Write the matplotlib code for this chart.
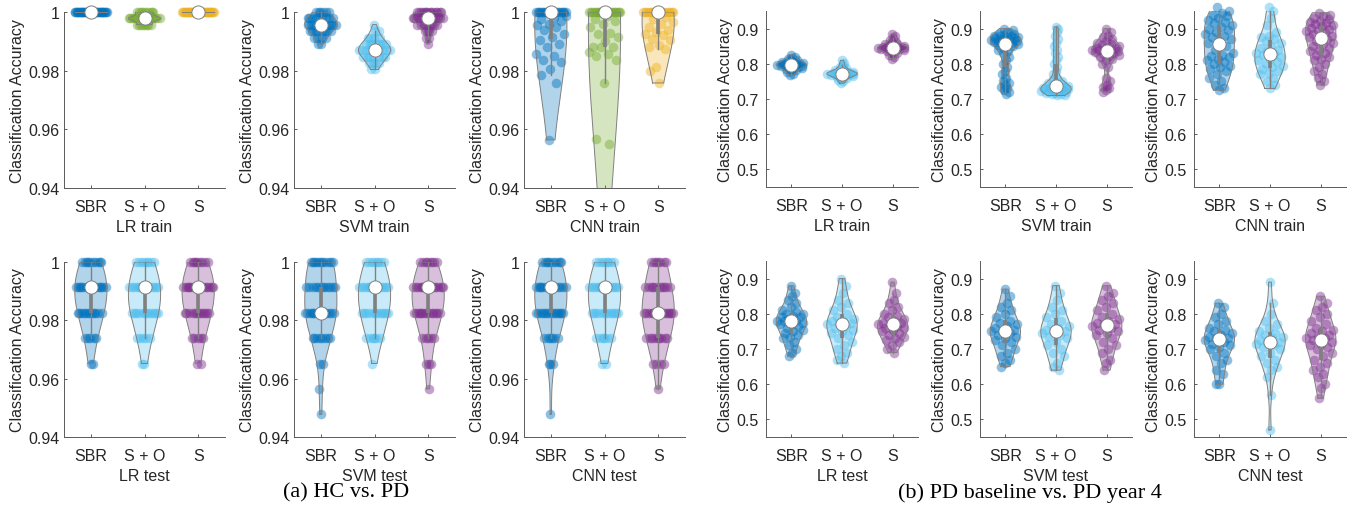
import numpy as np
import matplotlib
matplotlib.use('Agg')
import matplotlib.pyplot as plt

# MATLAB default colour order
BLUE = (0.0, 0.447, 0.741)
LBLUE = (0.301, 0.745, 0.933)
GREEN = (0.466, 0.674, 0.188)
ORANGE = (0.929, 0.694, 0.125)
PURPLE = (0.494, 0.184, 0.556)
GRAY = (0.5, 0.5, 0.5)

categories = ['SBR', 'S + O', 'S']

# ---- (a) HC vs. PD : accuracies sit on discrete levels -> (levels, counts) tables
hc_lr_train_sbr = ([1.0], [40])
hc_lr_train_so = ([1.0, 0.9978, 0.9957], [10, 18, 8])
hc_lr_train_s = ([1.0], [40])

hc_svm_train_sbr = ([1.0, 0.9978, 0.9957, 0.9935, 0.9913, 0.9891], [6, 9, 12, 8, 4, 2])
hc_svm_train_so = ([0.9957, 0.9935, 0.9913, 0.9891, 0.9870, 0.9848, 0.9826, 0.9804],
                   [1, 2, 4, 7, 10, 7, 4, 2])
hc_svm_train_s = ([1.0, 0.9978, 0.9957, 0.9935, 0.9913, 0.9891], [14, 14, 8, 4, 2, 1])

hc_cnn_train_sbr = [1.0] * 22 + [0.9985, 0.998, 0.9977, 0.997, 0.996, 0.9954, 0.995, 0.9937,
                                 0.9926, 0.9915, 0.9903, 0.989, 0.988, 0.9858, 0.985, 0.9835,
                                 0.983, 0.9807, 0.9784, 0.9758, 0.9564]
hc_cnn_train_so = [1.0] * 23 + [0.9985, 0.9977, 0.997, 0.996, 0.9948, 0.993, 0.9926, 0.9915,
                                0.990, 0.988, 0.988, 0.988, 0.9865, 0.9858, 0.985, 0.9835,
                                0.9758, 0.9567, 0.955, 0.935, 0.92]
hc_cnn_train_s = [1.0] * 20 + [0.9983, 0.9977, 0.9966, 0.996, 0.9949, 0.9937, 0.9932, 0.9926,
                               0.992, 0.9909, 0.9903, 0.9886, 0.988, 0.9875, 0.9812, 0.980,
                               0.9758]

hc_test_levels = [1.0, 0.9913, 0.9826, 0.9739, 0.9652, 0.9565, 0.9478]
hc_lr_test_sbr = (hc_test_levels, [10, 16, 12, 5, 2, 0, 0])
hc_lr_test_so = (hc_test_levels, [8, 14, 12, 5, 2, 0, 0])
hc_lr_test_s = (hc_test_levels, [9, 16, 12, 5, 2, 0, 0])
hc_svm_test_sbr = (hc_test_levels, [12, 12, 14, 8, 2, 1, 1])
hc_svm_test_so = (hc_test_levels, [8, 14, 12, 6, 1, 0, 0])
hc_svm_test_s = (hc_test_levels, [8, 16, 14, 5, 3, 1, 0])
hc_cnn_test_sbr = (hc_test_levels, [10, 15, 14, 6, 3, 0, 1])
hc_cnn_test_so = (hc_test_levels, [8, 14, 12, 6, 2, 0, 0])
hc_cnn_test_s = (hc_test_levels, [7, 10, 14, 9, 4, 1, 0])

# ---- (b) PD baseline vs. PD year 4
pd_lr_train_sbr = [0.768, 0.772, 0.776, 0.779, 0.782, 0.785, 0.787, 0.789, 0.790, 0.792,
                   0.793, 0.794, 0.795, 0.796, 0.797, 0.797, 0.798, 0.799, 0.800, 0.801,
                   0.802, 0.803, 0.805, 0.806, 0.808, 0.810, 0.813, 0.816, 0.820, 0.826]
pd_lr_train_so = [0.745, 0.750, 0.754, 0.757, 0.760, 0.762, 0.764, 0.766, 0.767, 0.768,
                  0.769, 0.770, 0.771, 0.771, 0.772, 0.772, 0.773, 0.774, 0.775, 0.776,
                  0.777, 0.778, 0.780, 0.782, 0.784, 0.787, 0.791, 0.796, 0.802, 0.810]
pd_lr_train_s = [0.815, 0.820, 0.825, 0.829, 0.832, 0.835, 0.837, 0.839, 0.840, 0.841,
                 0.842, 0.843, 0.844, 0.845, 0.845, 0.846, 0.847, 0.848, 0.849, 0.850,
                 0.851, 0.853, 0.855, 0.857, 0.860, 0.863, 0.867, 0.872, 0.878, 0.885]

pd_svm_train_sbr = [0.715, 0.72, 0.725, 0.73, 0.735, 0.74, 0.745, 0.75, 0.76, 0.77, 0.78,
                    0.79, 0.80, 0.81, 0.82, 0.83, 0.835, 0.84, 0.845, 0.85, 0.852, 0.855,
                    0.857, 0.858, 0.86, 0.861, 0.862, 0.864, 0.865, 0.867, 0.868, 0.87,
                    0.872, 0.873, 0.875, 0.876, 0.878, 0.879, 0.88, 0.883, 0.884, 0.886,
                    0.89, 0.895, 0.90]
pd_svm_train_so = [0.71, 0.712, 0.713, 0.715, 0.717, 0.718, 0.72, 0.721, 0.722, 0.724,
                   0.725, 0.726, 0.727, 0.728, 0.729, 0.73, 0.731, 0.732, 0.733, 0.734,
                   0.735, 0.736, 0.738, 0.74, 0.742, 0.745, 0.748, 0.752, 0.756, 0.76,
                   0.77, 0.78, 0.79, 0.80, 0.81, 0.82, 0.83, 0.84, 0.85, 0.86, 0.87,
                   0.88, 0.89, 0.90, 0.905]
pd_svm_train_s = [0.72, 0.725, 0.73, 0.735, 0.74, 0.75, 0.76, 0.79, 0.80, 0.81, 0.815,
                  0.82, 0.823, 0.826, 0.829, 0.831, 0.833, 0.835, 0.837, 0.838, 0.839,
                  0.84, 0.842, 0.844, 0.846, 0.848, 0.85, 0.853, 0.856, 0.86, 0.865,
                  0.87, 0.875, 0.88, 0.89, 0.90]

pd_cnn_train_sbr = [0.725, 0.73, 0.74, 0.75, 0.76, 0.77, 0.78, 0.785, 0.79, 0.795, 0.80,
                    0.805, 0.81, 0.815, 0.82, 0.822, 0.825, 0.83, 0.84, 0.85, 0.86, 0.865,
                    0.87, 0.875, 0.88, 0.885, 0.89, 0.895, 0.90, 0.905, 0.91, 0.915, 0.92,
                    0.925, 0.93, 0.935, 0.94, 0.945, 0.95, 0.96]
pd_cnn_train_so = [0.73, 0.74, 0.75, 0.76, 0.77, 0.775, 0.78, 0.785, 0.79, 0.795, 0.80,
                   0.805, 0.81, 0.815, 0.82, 0.825, 0.828, 0.83, 0.835, 0.84, 0.845, 0.85,
                   0.86, 0.865, 0.87, 0.875, 0.88, 0.89, 0.91, 0.93, 0.95, 0.96]
pd_cnn_train_s = [0.74, 0.75, 0.76, 0.77, 0.78, 0.79, 0.80, 0.81, 0.815, 0.82, 0.825,
                  0.83, 0.835, 0.84, 0.845, 0.85, 0.855, 0.86, 0.865, 0.87, 0.875, 0.878,
                  0.88, 0.885, 0.89, 0.893, 0.896, 0.90, 0.903, 0.906, 0.91, 0.913, 0.916,
                  0.92, 0.923, 0.926, 0.93, 0.935, 0.94, 0.945]

pd_lr_test_sbr = [0.68, 0.69, 0.70, 0.71, 0.72, 0.73, 0.735, 0.74, 0.745, 0.75, 0.755,
                  0.76, 0.765, 0.77, 0.77, 0.775, 0.78, 0.78, 0.78, 0.785, 0.79, 0.79,
                  0.795, 0.80, 0.80, 0.805, 0.81, 0.82, 0.83, 0.84, 0.85, 0.86, 0.88]
pd_lr_test_so = [0.66, 0.67, 0.68, 0.69, 0.70, 0.71, 0.72, 0.73, 0.74, 0.745, 0.75, 0.755,
                 0.76, 0.765, 0.77, 0.77, 0.775, 0.78, 0.78, 0.785, 0.79, 0.80, 0.81,
                 0.82, 0.83, 0.84, 0.86, 0.88, 0.90]
pd_lr_test_s = [0.69, 0.70, 0.71, 0.72, 0.725, 0.73, 0.735, 0.74, 0.745, 0.75, 0.755,
                0.76, 0.76, 0.765, 0.77, 0.77, 0.775, 0.775, 0.78, 0.785, 0.79, 0.795,
                0.80, 0.81, 0.82, 0.83, 0.84, 0.86, 0.89]

pd_svm_test_sbr = [0.65, 0.66, 0.67, 0.68, 0.69, 0.70, 0.71, 0.72, 0.725, 0.73, 0.735,
                   0.74, 0.745, 0.75, 0.75, 0.755, 0.76, 0.765, 0.77, 0.775, 0.78, 0.79,
                   0.80, 0.81, 0.82, 0.83, 0.85, 0.87]
pd_svm_test_so = [0.64, 0.65, 0.66, 0.68, 0.69, 0.70, 0.71, 0.72, 0.73, 0.735, 0.74,
                  0.745, 0.75, 0.75, 0.755, 0.76, 0.765, 0.77, 0.78, 0.79, 0.80, 0.81,
                  0.82, 0.84, 0.86, 0.88]
pd_svm_test_s = [0.64, 0.66, 0.67, 0.69, 0.70, 0.71, 0.72, 0.73, 0.74, 0.745, 0.75, 0.755,
                 0.76, 0.765, 0.77, 0.77, 0.775, 0.78, 0.785, 0.79, 0.80, 0.81, 0.82,
                 0.83, 0.84, 0.85, 0.86, 0.88]

pd_cnn_test_sbr = [0.60, 0.60, 0.63, 0.64, 0.66, 0.67, 0.68, 0.69, 0.70, 0.705, 0.71,
                   0.715, 0.72, 0.725, 0.73, 0.73, 0.735, 0.74, 0.745, 0.75, 0.755, 0.76,
                   0.77, 0.78, 0.79, 0.80, 0.82, 0.83]
pd_cnn_test_so = [0.47, 0.57, 0.62, 0.64, 0.65, 0.66, 0.67, 0.68, 0.69, 0.70, 0.705, 0.71,
                  0.715, 0.72, 0.72, 0.725, 0.73, 0.735, 0.74, 0.745, 0.75, 0.76, 0.77,
                  0.78, 0.80, 0.83, 0.89]
pd_cnn_test_s = [0.56, 0.59, 0.60, 0.62, 0.63, 0.64, 0.65, 0.66, 0.67, 0.68, 0.69, 0.70,
                 0.705, 0.71, 0.715, 0.72, 0.725, 0.73, 0.73, 0.735, 0.74, 0.745, 0.75,
                 0.755, 0.76, 0.77, 0.78, 0.79, 0.80, 0.81, 0.82, 0.83, 0.85]

hc_yticks = [0.94, 0.96, 0.98, 1.0]
hc_yticklabels = ['0.94', '0.96', '0.98', '1']
pd_yticks = [0.5, 0.6, 0.7, 0.8, 0.9]
pd_yticklabels = ['0.5', '0.6', '0.7', '0.8', '0.9']


def expand(d):
    if isinstance(d, tuple):
        return np.repeat(np.asarray(d[0], float), d[1])
    return np.asarray(d, float)


def violin(ax, pos, values, color, ylim, width=0.3):
    v = np.sort(expand(values))[::-1]
    lo, hi = v.min(), v.max()
    med = np.median(v)
    q1, q3 = np.percentile(v, [25, 75])
    if hi > lo:
        # ksdensity-like bandwidth (robust sigma, falls back to the range)
        sig = np.median(np.abs(v - med)) / 0.6745
        if sig <= 0:
            sig = hi - lo
        bw = sig * (4.0 / (3 * len(v))) ** 0.2
        grid = np.linspace(lo, hi, 200)
        dens = np.exp(-0.5 * ((grid[:, None] - v[None, :]) / bw) ** 2).sum(axis=1)
        half = width * dens / dens.max()
        pt_half = np.interp(v, grid, half)
        ax.fill_betweenx(grid, pos - half, pos + half, facecolor=color, alpha=0.3,
                         edgecolor='none', zorder=3)
        xs = np.concatenate([pos - half, (pos + half)[::-1], [pos - half[0]]])
        ys = np.concatenate([grid, grid[::-1], [grid[0]]])
        ax.plot(xs, ys, color=GRAY, lw=0.7, zorder=4)
    else:
        pt_half = np.full(len(v), width)
        ax.plot([pos - width, pos + width], [lo, lo], color=GRAY, lw=0.7, zorder=4)
    # deterministic spread of the points inside the violin
    spread = 2 * ((np.arange(len(v)) * 0.618034 + 0.37) % 1.0) - 1
    keep = v >= ylim[0]
    ax.scatter((pos + spread * pt_half)[keep], v[keep], s=48, color=color, alpha=0.45,
               linewidths=0, zorder=2, clip_on=False)
    iqr = q3 - q1
    wlo = v[v >= q1 - 1.5 * iqr].min()
    whi = v[v <= q3 + 1.5 * iqr].max()
    ax.plot([pos, pos], [wlo, whi], color=GRAY, lw=1.0, zorder=5)
    ax.plot([pos, pos], [q1, q3], color=GRAY, lw=2.6, solid_capstyle='butt', zorder=5)
    ax.plot(pos, med, 'o', ms=9.5, mfc='white', mec=GRAY, mew=0.7, zorder=6,
            clip_on=False)


plt.rcParams['font.family'] = ['Liberation Sans', 'DejaVu Sans']
W, H = 1351, 510
fig = plt.figure(figsize=(W / 100, H / 100), dpi=100)

hc_panels = [
    ('LR train', [hc_lr_train_sbr, hc_lr_train_so, hc_lr_train_s], [BLUE, GREEN, ORANGE]),
    ('SVM train', [hc_svm_train_sbr, hc_svm_train_so, hc_svm_train_s], [BLUE, LBLUE, PURPLE]),
    ('CNN train', [hc_cnn_train_sbr, hc_cnn_train_so, hc_cnn_train_s], [BLUE, GREEN, ORANGE]),
    ('LR test', [hc_lr_test_sbr, hc_lr_test_so, hc_lr_test_s], [BLUE, LBLUE, PURPLE]),
    ('SVM test', [hc_svm_test_sbr, hc_svm_test_so, hc_svm_test_s], [BLUE, LBLUE, PURPLE]),
    ('CNN test', [hc_cnn_test_sbr, hc_cnn_test_so, hc_cnn_test_s], [BLUE, LBLUE, PURPLE]),
]
pd_panels = [
    ('LR train', [pd_lr_train_sbr, pd_lr_train_so, pd_lr_train_s]),
    ('SVM train', [pd_svm_train_sbr, pd_svm_train_so, pd_svm_train_s]),
    ('CNN train', [pd_cnn_train_sbr, pd_cnn_train_so, pd_cnn_train_s]),
    ('LR test', [pd_lr_test_sbr, pd_lr_test_so, pd_lr_test_s]),
    ('SVM test', [pd_svm_test_sbr, pd_svm_test_so, pd_svm_test_s]),
    ('CNN test', [pd_cnn_test_sbr, pd_cnn_test_so, pd_cnn_test_s]),
]


def style_axes(ax, title, ylim, yticks, yticklabels, ypad, ylab_x, height_px):
    ax.set_xlim(0.5, 3.5)
    ax.set_ylim(*ylim)
    ax.set_xticks([1, 2, 3])
    ax.set_xticklabels(categories)
    ax.set_yticks(yticks)
    ax.set_yticklabels(yticklabels)
    for s in ['top', 'right']:
        ax.spines[s].set_visible(False)
    for s in ['left', 'bottom']:
        ax.spines[s].set_color('#5a5a5a')
        ax.spines[s].set_linewidth(0.7)
    ax.tick_params(direction='in', length=2.5, width=0.7, color='#5a5a5a',
                   labelsize=11.5, labelcolor='#262626')
    ax.tick_params(axis='y', pad=ypad)
    ax.tick_params(axis='x', pad=8)
    ax.set_ylabel('Classification Accuracy', fontsize=11.5, color='#262626')
    ax.yaxis.set_label_coords(ylab_x, 0.5)
    ax.set_xlabel(title, fontsize=11.5, color='#262626')
    ax.xaxis.set_label_coords(0.5, -31 / height_px)


def add_axes(left, top, bottom, width):
    return fig.add_axes([left / W, 1 - bottom / H, width / W, (bottom - top) / H])


hc_lefts = [64, 294, 524]
hc_rows = [(13, 189), (263, 438)]
hc_ylim = (0.94, 1.0)
for i, (title, data, colors) in enumerate(hc_panels):
    top, bottom = hc_rows[i // 3]
    ax = add_axes(hc_lefts[i % 3], top, bottom, 161)
    for j in range(3):
        violin(ax, j + 1, data[j], colors[j], hc_ylim)
    style_axes(ax, title, hc_ylim, hc_yticks, hc_yticklabels, 3, -39 / 161,
               bottom - top)

pd_lefts = [766, 980, 1194]
pd_rows = [(12, 188), (262, 438)]
pd_ylim = (0.45, 0.95)
for i, (title, data) in enumerate(pd_panels):
    top, bottom = pd_rows[i // 3]
    ax = add_axes(pd_lefts[i % 3], top, bottom, 152)
    for j, c in enumerate([BLUE, LBLUE, PURPLE]):
        violin(ax, j + 1, data[j], c, pd_ylim)
    style_axes(ax, title, pd_ylim, pd_yticks, pd_yticklabels, 5.5, -33 / 152,
               bottom - top)

fig.text(346 / W, 1 - 493 / H, '(a) HC vs. PD', ha='center', va='center',
         fontsize=16, family='Liberation Serif', color='black')
fig.text(1030 / W, 1 - 493 / H, '(b) PD baseline vs. PD year 4', ha='center',
         va='center', fontsize=16, family='Liberation Serif', color='black')

fig.savefig('out.png', dpi=100)
